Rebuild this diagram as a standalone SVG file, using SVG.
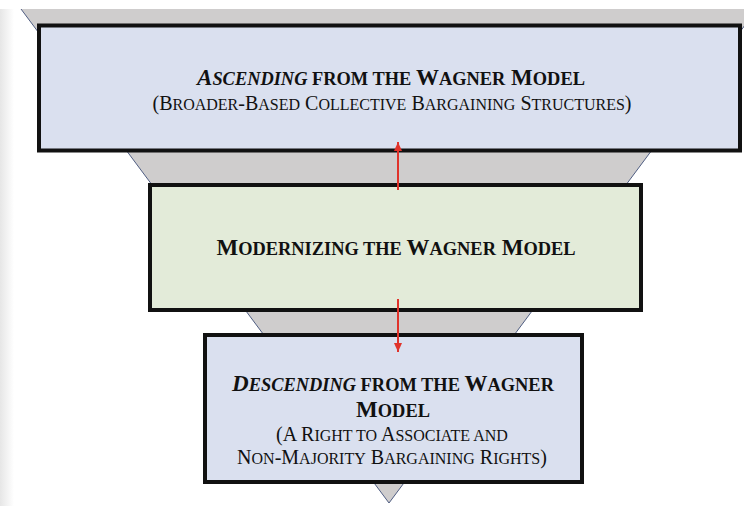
<svg xmlns="http://www.w3.org/2000/svg" width="744" height="506" viewBox="0 0 744 506">
<defs>
<linearGradient id="edge" x1="0" y1="0" x2="1" y2="0">
<stop offset="0" stop-color="#e6e6e6"/>
<stop offset="1" stop-color="#ffffff"/>
</linearGradient>
<marker id="ah" markerWidth="10" markerHeight="10" refX="9" refY="5" orient="auto" markerUnits="userSpaceOnUse">
<path d="M0,1 L9,5 L0,9 Z" fill="#e0332b"/>
</marker>
<style>
.box{stroke:#111;stroke-width:4}
.blue{fill:#dae0ef}
.green{fill:#e3ebd9}
.b{font-family:"Liberation Serif","Times New Roman",serif;font-weight:bold;font-size:23px;fill:#111;text-anchor:middle}
.r{font-family:"Liberation Serif","Times New Roman",serif;font-size:20px;fill:#111;text-anchor:middle}
.sb{font-size:18.4px}
.sr{font-size:16px}
.arrow{stroke:#e0332b;stroke-width:2;fill:none;marker-end:url(#ah)}
</style>
</defs>
<rect x="0" y="0" width="744" height="506" fill="#ffffff"/>
<rect x="0" y="9" width="14" height="497" fill="url(#edge)"/>
<polygon points="21,9 757,9 389,503" fill="#cfcdcd"/>
<path d="M21,9 L389,503 L757,9" fill="none" stroke="#4f5d82" stroke-width="1"/>
<g id="node-ascending">
<rect class="box blue" x="39" y="25.5" width="701" height="125"/>
<text class="b" x="391" y="85"><tspan font-style="italic">A<tspan class="sb">SCENDING</tspan></tspan><tspan class="sb"> FROM THE </tspan>W<tspan class="sb">AGNER</tspan> M<tspan class="sb">ODEL</tspan></text>
<text class="r" x="392" y="110">(B<tspan class="sr">ROADER</tspan>-B<tspan class="sr">ASED</tspan> C<tspan class="sr">OLLECTIVE</tspan> B<tspan class="sr">ARGAINING</tspan> S<tspan class="sr">TRUCTURES</tspan>)</text>
</g>
<g id="node-modernizing">
<rect class="box green" x="150" y="185" width="491" height="125"/>
<text class="b" x="396" y="255">M<tspan class="sb">ODERNIZING THE </tspan>W<tspan class="sb">AGNER</tspan> M<tspan class="sb">ODEL</tspan></text>
</g>
<g id="node-descending">
<rect class="box blue" x="205" y="335" width="377" height="147"/>
<text class="b" x="393" y="391"><tspan font-style="italic">D<tspan class="sb">ESCENDING</tspan></tspan><tspan class="sb"> FROM THE </tspan>W<tspan class="sb">AGNER</tspan></text>
<text class="b" x="393" y="417">M<tspan class="sb">ODEL</tspan></text>
<text class="r" x="392" y="441">(A R<tspan class="sr">IGHT TO</tspan> A<tspan class="sr">SSOCIATE AND</tspan></text>
<text class="r" x="392" y="464">N<tspan class="sr">ON</tspan>-M<tspan class="sr">AJORITY</tspan> B<tspan class="sr">ARGAINING</tspan> R<tspan class="sr">IGHTS</tspan>)</text>
</g>
<g id="connectors">
<line class="arrow" x1="398" y1="190" x2="398" y2="142"/>
<line class="arrow" x1="398" y1="299" x2="398" y2="352"/>
</g>
</svg>
